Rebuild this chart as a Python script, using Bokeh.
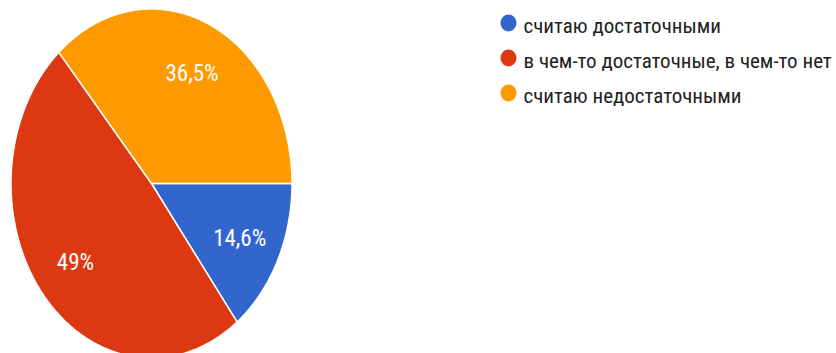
import numpy as np
from bokeh.plotting import figure
from bokeh.models import Range1d
from bokeh.core.properties import value
from bokeh.embed import file_html
from bokeh.resources import INLINE

# ---- data ----
categories = ["считаю достаточными", "в чем-то достаточные, в чем-то нет", "считаю недостаточными"]
shares = [14.6, 49.0, 36.5]
labels = ["14,6%", "49%", "36,5%"]
colors = ["#3366cc", "#dc3912", "#ff9900"]

# ---- layout (pixel-like coordinates of the window) ----
W, H = 836, 353
cx, cy, rx, ry = 151.0, 183.0, 140.5, 174.5
FONT = "Roboto Condensed"

p = figure(width=W, height=H, output_backend="svg", toolbar_location=None,
           x_range=Range1d(0, W), y_range=Range1d(H, 0),
           min_border=0, outline_line_color=None)
p.axis.visible = False
p.grid.visible = False

total = sum(shares)
fr = np.array(shares) / total
ends = np.cumsum(fr) * 2 * np.pi
starts = ends - fr * 2 * np.pi

xs, ys, lx, ly = [], [], [], []
for s, e in zip(starts, ends):
    t = np.linspace(s, e, 200)
    xs.append(list(np.concatenate([[cx], cx + rx * np.cos(t), [cx]])))
    ys.append(list(np.concatenate([[cy], cy + ry * np.sin(t), [cy]])))
    m = (s + e) / 2
    lx.append(cx + 0.70 * rx * np.cos(m))
    ly.append(cy + 0.70 * ry * np.sin(m))

p.patches(xs=xs, ys=ys, fill_color=colors, line_color="white", line_width=1.5)
p.text(x=lx, y=[v + 1 for v in ly], text=labels, text_color="white", text_align="center",
       text_baseline="middle", text_font=value(FONT), text_font_size="23px")

# legend
leg_y = [24 + 35 * i for i in range(len(categories))]
p.ellipse(x=[508] * 3, y=[v - 1.5 for v in leg_y], width=16, height=17,
          fill_color=colors, line_color=None)
p.text(x=[523] * 3, y=[v + 1 for v in leg_y], text=categories, text_color="#222222",
       text_align="left", text_baseline="middle", text_font=value(FONT),
       text_font_size="21px")

open("out.html", "w").write(file_html(p, INLINE))
